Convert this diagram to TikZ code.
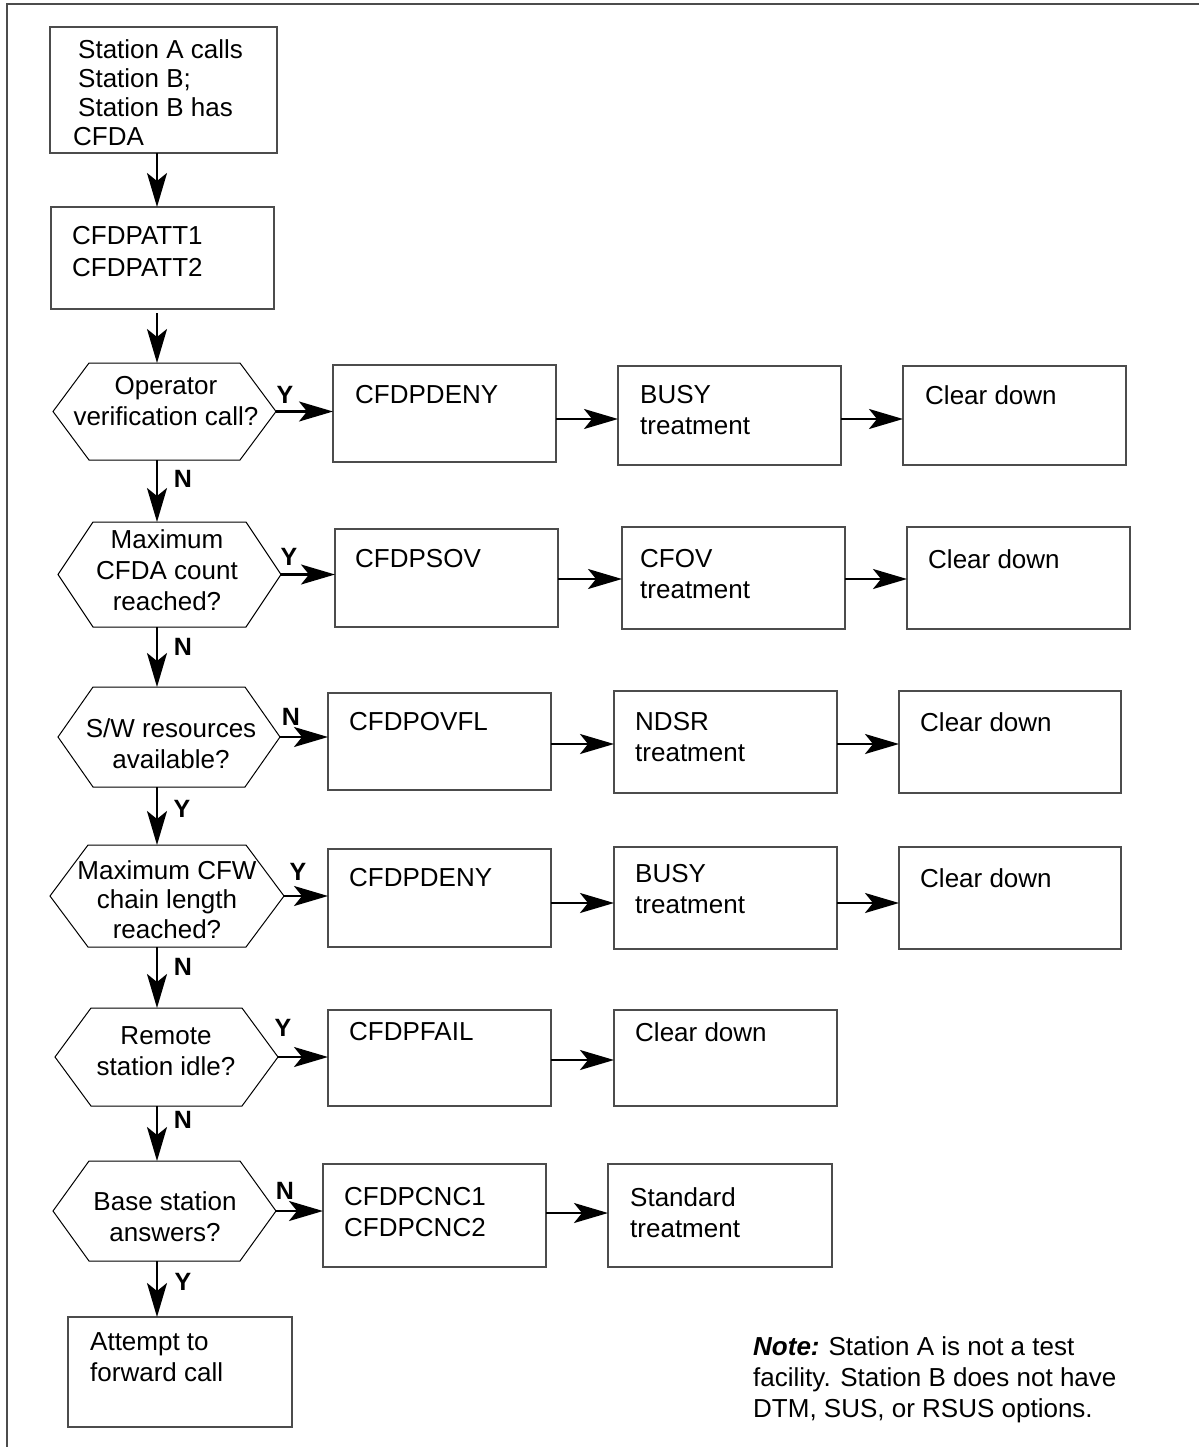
\documentclass[tikz,border=0pt]{standalone}
\usepackage{fontspec}
\setmainfont{Liberation Sans}
\usetikzlibrary{arrows.meta}
\newcommand\mkbox[5]{\node[box, minimum width={#4-#2}, minimum height={#5-#3}] (#1) at (#2,#3) {};}
\newcommand\mkhex[6]{%
  \node[hexn, minimum width={#4-#2}, minimum height={#5-#3}] (#1) at ({(#2+#4)/2},{(#3+#5)/2}) {};
  \draw[hexline] (#1.west) -- ([xshift=#6pt]#1.north west) -- ([xshift=-#6pt]#1.north east) -- (#1.east) -- ([xshift=-#6pt]#1.south east) -- ([xshift=#6pt]#1.south west) -- cycle;}
\begin{document}
\begin{tikzpicture}[x=1pt,y=-1pt,
  box/.style={draw=black!70, line width=1.2pt, anchor=north west, inner sep=0pt, outer sep=0pt},
  txt/.style={anchor=north west, align=left, inner sep=0pt, font=\fontsize{26}{31}\selectfont},
  htxt/.style={anchor=north, align=center, inner sep=0pt, font=\fontsize{26}{31}\selectfont},
  lbl/.style={anchor=base, inner sep=0pt, font=\fontsize{25}{28}\selectfont\bfseries},
  hexn/.style={inner sep=0pt, outer sep=0pt},
  hexline/.style={draw=black, line width=1pt},
  conn/.style={draw=black, line width=2.4pt, -{Stealth[length=34pt,width=20pt,inset=8pt]}},
  frame/.style={draw=black!70, line width=1.5pt}
]
\useasboundingbox (0,0) rectangle (1199,1447);
\draw[frame] (7,1447) -- (7,4) -- (1199,4);
\coordinate (col) at (157,0);

% start
\mkbox{start}{50}{27}{277}{153}
\node[txt, font=\fontsize{26}{29}\selectfont] (startt) at (73,39) {\hspace{5pt}Station A calls\\\hspace{5pt}Station B;\\\hspace{5pt}Station B has\\CFDA};
\mkbox{patt}{51}{207}{274}{309}
\node[txt, font=\fontsize{26}{32}\selectfont] (pattt) at (72,226) {CFDPATT1\\CFDPATT2};

% row 1
\mkhex{h1}{53}{363}{276}{460}{36}
\node[htxt] (h1t) at (166,376) {Operator\\verification call?};
\node[lbl] (l1) at (285,403) {Y};
\mkbox{b11}{333}{365}{556}{462}
\node[txt] (b11t) at (355,385) {CFDPDENY};
\mkbox{b12}{618}{366}{841}{465}
\node[txt] (b12t) at (640,385) {BUSY\\treatment};
\mkbox{b13}{903}{366}{1126}{465}
\node[txt] (b13t) at (925,385) {Clear down};
\coordinate (r1) at (0,419);
\node[lbl] (n1) at (183,487) {N};

% row 2
\mkhex{h2}{58}{522}{281}{627}{35}
\node[htxt] (h2t) at (167,529) {Maximum\\CFDA count\\reached?};
\node[lbl] (l2) at (289,565) {Y};
\mkbox{b21}{335}{529}{558}{627}
\node[txt] (b21t) at (355,549) {CFDPSOV};
\mkbox{b22}{622}{527}{845}{629}
\node[txt] (b22t) at (640,549) {CFOV\\treatment};
\mkbox{b23}{907}{527}{1130}{629}
\node[txt] (b23t) at (928,549) {Clear down};
\coordinate (r2) at (0,579);
\node[lbl] (n2) at (183,655) {N};

% row 3
\mkhex{h3}{58}{687}{280}{787}{35}
\node[htxt] (h3t) at (171,718) {S/W resources\\available?};
\node[lbl] (l3) at (291,725) {N};
\mkbox{b31}{328}{693}{551}{790}
\node[txt] (b31t) at (349,712) {CFDPOVFL};
\mkbox{b32}{614}{691}{837}{793}
\node[txt] (b32t) at (635,712) {NDSR\\treatment};
\mkbox{b33}{899}{691}{1121}{793}
\node[txt] (b33t) at (920,712) {Clear down};
\coordinate (r3) at (0,744);
\node[lbl] (n3) at (182,817) {Y};

% row 4
\mkhex{h4}{50}{845}{284}{947}{38}
\node[htxt, font=\fontsize{26}{29.5}\selectfont] (h4t) at (167,860) {Maximum CFW\\chain length\\reached?};
\node[lbl] (l4) at (298,880) {Y};
\mkbox{b41}{328}{849}{551}{947}
\node[txt] (b41t) at (349,868) {CFDPDENY};
\mkbox{b42}{614}{847}{837}{949}
\node[txt] (b42t) at (635,864) {BUSY\\treatment};
\mkbox{b43}{899}{847}{1121}{949}
\node[txt] (b43t) at (920,868) {Clear down};
\coordinate (r4) at (0,903);
\node[lbl] (n4) at (183,975) {N};

% row 5
\mkhex{h5}{55}{1008}{278}{1106}{36}
\node[htxt] (h5t) at (166,1026) {Remote\\station idle?};
\node[lbl] (l5) at (283,1036) {Y};
\mkbox{b51}{328}{1010}{551}{1106}
\node[txt] (b51t) at (349,1022) {CFDPFAIL};
\mkbox{b52}{614}{1010}{837}{1106}
\node[txt] (b52t) at (635,1022) {Clear down};
\coordinate (r5) at (0,1060);
\node[lbl] (n5) at (183,1128) {N};

% row 6
\mkhex{h6}{53}{1161}{276}{1261}{36}
\node[htxt] (h6t) at (165,1191) {Base station\\answers?};
\node[lbl] (l6) at (285,1199) {N};
\mkbox{b61}{323}{1164}{546}{1267}
\node[txt] (b61t) at (344,1187) {CFDPCNC1\\CFDPCNC2};
\mkbox{b62}{608}{1164}{832}{1267}
\node[txt] (b62t) at (630,1187) {Standard\\treatment};
\coordinate (r6) at (0,1213);
\node[lbl] (n6) at (183,1290) {Y};

\mkbox{att}{68}{1317}{292}{1427}
\node[txt] (attt) at (90,1332) {Attempt to\\forward call};

\node[txt] (note) at (753,1336) {\textbf{\textit{Note:}}\hspace{9pt}Station A is not a test\\facility. Station B does not have\\DTM, SUS, or RSUS options.};

% vertical connectors
\draw[conn] (start.south -| col) -- (patt.north -| col);
\draw[conn] ([yshift=-4pt]patt.south -| col) -- (h1.north -| col);
\draw[conn] (h1.south -| col) -- (h2.north -| col);
\draw[conn] (h2.south -| col) -- (h3.north -| col);
\draw[conn] (h3.south -| col) -- (h4.north -| col);
\draw[conn] (h4.south -| col) -- (h5.north -| col);
\draw[conn] (h5.south -| col) -- (h6.north -| col);
\draw[conn] (h6.south -| col) -- (att.north -| col);

% horizontal connectors
\draw[conn] (h1.east) -- (h1.east -| b11.west);
\draw[conn] (b11.east |- r1) -- (b12.west |- r1);
\draw[conn] (b12.east |- r1) -- (b13.west |- r1);
\draw[conn] (h2.east) -- (h2.east -| b21.west);
\draw[conn] (b21.east |- r2) -- (b22.west |- r2);
\draw[conn] (b22.east |- r2) -- (b23.west |- r2);
\draw[conn] (h3.east) -- (h3.east -| b31.west);
\draw[conn] (b31.east |- r3) -- (b32.west |- r3);
\draw[conn] (b32.east |- r3) -- (b33.west |- r3);
\draw[conn] (h4.east) -- (h4.east -| b41.west);
\draw[conn] (b41.east |- r4) -- (b42.west |- r4);
\draw[conn] (b42.east |- r4) -- (b43.west |- r4);
\draw[conn] (h5.east) -- (h5.east -| b51.west);
\draw[conn] (b51.east |- r5) -- (b52.west |- r5);
\draw[conn] (h6.east) -- (h6.east -| b61.west);
\draw[conn] (b61.east |- r6) -- (b62.west |- r6);
\end{tikzpicture}
\end{document}
